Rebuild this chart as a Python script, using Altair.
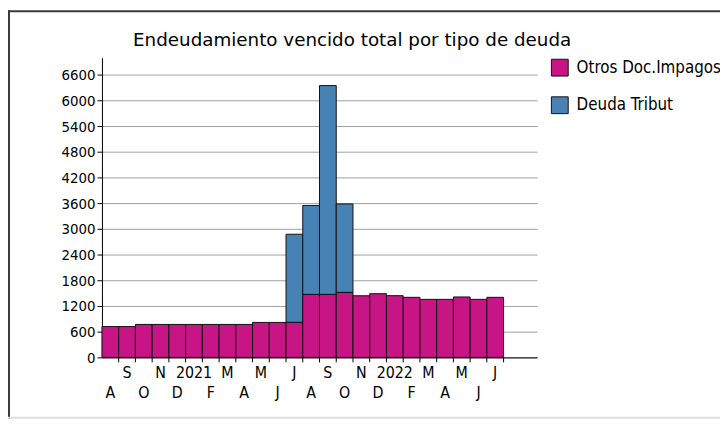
import altair as alt
import pandas as pd

# ---- data ----
month_keys = ["2020-08", "2020-09", "2020-10", "2020-11", "2020-12", "2021-01",
              "2021-02", "2021-03", "2021-04", "2021-05", "2021-06", "2021-07",
              "2021-08", "2021-09", "2021-10", "2021-11", "2021-12", "2022-01",
              "2022-02", "2022-03", "2022-04", "2022-05", "2022-06", "2022-07"]
extra_slots = ["pad1", "pad2"]
tick_labels = ["A", "S", "O", "N", "D", "2021", "F", "M", "A", "M", "J", "J",
               "A", "S", "O", "N", "D", "2022", "F", "M", "A", "M", "J", "J"]
otros = [720, 720, 770, 770, 770, 770, 770, 770, 770, 817, 817, 820,
         1472, 1472, 1519, 1440, 1488, 1442, 1403, 1356, 1356, 1412, 1356, 1403]
deuda = [0, 0, 0, 0, 0, 0, 0, 0, 0, 0, 0, 2057,
         2078, 4878, 2066, 0, 0, 0, 0, 0, 0, 0, 0, 0]
series_names = ["Otros Doc.Impagos", "Deuda Tribut"]
series_colors = ["#C71585", "#4682B4"]
y_ticks = [0, 600, 1200, 1800, 2400, 3000, 3600, 4200, 4800, 5400, 6000, 6600]
title_text = "Endeudamiento vencido total por tipo de deuda"

rows = []
for k, o, d in zip(month_keys, otros, deuda):
    rows.append({"key": k, "serie": series_names[0], "value": o, "ord": 0})
    if d > 0:
        rows.append({"key": k, "serie": series_names[1], "value": d, "ord": 1})
bars_df = pd.DataFrame(rows)

lab_df = pd.DataFrame({"key": month_keys, "label": tick_labels,
                       "row": [i % 2 for i in range(len(month_keys))]})

W, H = 440, 303
domain_x = month_keys + extra_slots
xscale = alt.Scale(domain=domain_x, paddingInner=0, paddingOuter=0)
COND = "'DejaVu Sans Condensed', 'Liberation Sans', sans-serif"

bars = alt.Chart(bars_df).mark_bar(stroke="#111111", strokeWidth=1).encode(
    x=alt.X("key:N", scale=xscale, sort=domain_x,
            axis=alt.Axis(labels=False, ticks=False, title=None, grid=False,
                          domainColor="#000000", domainWidth=1)),
    y=alt.Y("value:Q", stack="zero",
            scale=alt.Scale(domain=[0, 7000], nice=False, zero=True),
            axis=alt.Axis(values=y_ticks, title=None, grid=True, format="d",
                          gridColor="#a0a0a0", gridWidth=1,
                          domainColor="#000000", tickColor="#000000",
                          tickSize=5, labelPadding=2,
                          labelFont=COND, labelFontSize=15,
                          labelColor="#000000")),
    color=alt.Color("serie:N",
                    scale=alt.Scale(domain=series_names, range=series_colors),
                    legend=alt.Legend(title=None, orient="none",
                                      legendX=454, legendY=1,
                                      symbolType="square", symbolSize=289,
                                      symbolStrokeColor="#111111",
                                      symbolStrokeWidth=1, symbolOpacity=1,
                                      labelFont=COND, labelFontSize=17,
                                      labelColor="#000000",
                                      labelOffset=8, rowPadding=16,
                                      padding=0)),
    order=alt.Order("ord:Q"),
)

ticks = alt.Chart(lab_df).mark_rule(color="#000000", strokeWidth=1).encode(
    x=alt.X("key:N", scale=xscale, sort=domain_x, bandPosition=1),
    y=alt.value(H),
    y2=alt.value(H + 5),
)

top_labels = alt.Chart(lab_df).transform_filter("datum.row == 1").mark_text(
    font=COND, fontSize=16, color="#000000", baseline="alphabetic", align="center"
).encode(
    x=alt.X("key:N", scale=xscale, sort=domain_x, bandPosition=0.5),
    y=alt.value(H + 21),
    text="label:N",
)
bottom_labels = alt.Chart(lab_df).transform_filter("datum.row == 0").mark_text(
    font=COND, fontSize=16, color="#000000", baseline="alphabetic", align="center"
).encode(
    x=alt.X("key:N", scale=xscale, sort=domain_x, bandPosition=0.5),
    y=alt.value(H + 41),
    text="label:N",
)

title = alt.Chart(pd.DataFrame({"t": [title_text]})).mark_text(
    font="DejaVu Sans", fontSize=18.5, color="#000000", align="center",
    baseline="alphabetic", fontWeight=500
).encode(x=alt.value(253), y=alt.value(-12), text="t:N")

frame_top = alt.Chart(pd.DataFrame({"a": [0]})).mark_rule(
    color="#3a3a3a", strokeWidth=2).encode(
    x=alt.value(-95), x2=alt.value(625), y=alt.value(-47))
frame_left = alt.Chart(pd.DataFrame({"a": [0]})).mark_rule(
    color="#3a3a3a", strokeWidth=2).encode(
    x=alt.value(-94), y=alt.value(-48), y2=alt.value(H + 62))
frame_bottom = alt.Chart(pd.DataFrame({"a": [0]})).mark_rule(
    color="#dddddd", strokeWidth=2).encode(
    x=alt.value(-95), x2=alt.value(625), y=alt.value(H + 61))

chart = alt.layer(
    bars, ticks, top_labels, bottom_labels, title,
    frame_top, frame_left, frame_bottom
).properties(
    width=W, height=H,
    autosize=alt.AutoSizeParams(type="none"),
    padding={"left": 95, "top": 48, "right": 185, "bottom": 62},
    background="#ffffff",
).configure_view(stroke=None)

chart.save("out.html", embed_options={"renderer": "svg", "actions": False})
